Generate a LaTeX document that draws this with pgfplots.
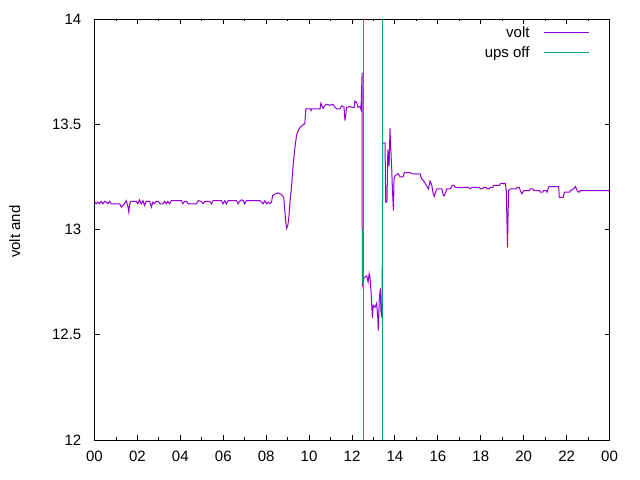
\documentclass[border=0pt]{standalone}
\usepackage{fontspec}
\setmainfont{Liberation Sans}
\usepackage{pgfplots}
\pgfplotsset{compat=1.18}
\definecolor{gpviolet}{HTML}{9400D3}
\definecolor{gpgreen}{HTML}{009E73}
\begin{document}
\fontsize{15bp}{18bp}\selectfont
\begin{tikzpicture}[x=1bp,y=1bp]
\useasboundingbox (0,0) rectangle (640,480);
\begin{axis}[
  at={(94.5bp,40bp)}, anchor=south west,
  scale only axis, width=515bp, height=421bp,
  xmin=0, xmax=24, ymin=12, ymax=14,
  xtick={0,2,...,24},
  xticklabels={00,02,04,06,08,10,12,14,16,18,20,22,00},
  minor x tick num=1,
  ytick={12,12.5,13,13.5,14},
  yticklabels={12,12.5,13,13.5,14},
  tick align=inside, major tick length=5bp, minor tick length=2.5bp,
  axis line style={line width=0.9bp},
  every tick/.style={line width=0.9bp, black},
  /pgf/number format/assume math mode=true,
  ticklabel style={font=\fontsize{15bp}{18bp}\selectfont},
  xticklabel style={yshift=-6bp},
  yticklabel style={xshift=-8bp},
  ylabel={volt and},
  ylabel style={at={(axis description cs:-0.155,0.495)}, anchor=center, font=\fontsize{15bp}{18bp}\selectfont},
  legend style={draw=none, fill=none, at={(1,1)}, anchor=north east,
    xshift=-19.5bp, yshift=-7.7bp, inner sep=0pt, outer sep=0pt,
    nodes={inner sep=0pt}, row sep=6bp, column sep=0pt},
  clip=true,
]
\addlegendimage{legend image code/.code={\draw[gpviolet, line width=1bp] (0bp,0bp) -- (45bp,0bp); \node[anchor=base east, black, inner sep=0pt, text height=11bp, text depth=3bp, font=\fontsize{15bp}{18bp}\selectfont] at (-14bp,-5.4bp) {volt};}}
\addlegendentry{}
\addlegendimage{legend image code/.code={\draw[gpgreen, line width=1bp] (0bp,0bp) -- (45bp,0bp); \node[anchor=base east, black, inner sep=0pt, text height=11bp, text depth=3bp, font=\fontsize{15bp}{18bp}\selectfont] at (-14bp,-5.4bp) {ups off};}}
\addlegendentry{}
\addplot[gpviolet, line width=1bp, forget plot] coordinates {
(0.00,13.133) (0.08,13.122) (0.16,13.130) (0.23,13.122) (0.31,13.134) (0.39,13.122)
(0.47,13.134) (0.55,13.130) (0.62,13.122) (0.70,13.134) (0.78,13.122) (1.17,13.122)
(1.25,13.106) (1.32,13.114) (1.40,13.122) (1.48,13.137) (1.56,13.106) (1.60,13.082)
(1.64,13.122) (1.70,13.134) (1.95,13.134) (2.02,13.122) (2.10,13.141) (2.18,13.122)
(2.26,13.137) (2.33,13.114) (2.41,13.134) (2.57,13.134) (2.65,13.106) (2.72,13.130)
(2.80,13.122) (2.88,13.134) (2.98,13.134) (3.04,13.122) (3.19,13.122) (3.27,13.134) (3.35,13.122)
(3.42,13.134) (3.50,13.122) (3.58,13.137) (4.05,13.137) (4.12,13.122) (4.20,13.134) (4.30,13.134)
(4.36,13.122) (4.75,13.122) (4.83,13.137) (4.98,13.134) (5.06,13.122) (5.14,13.134)
(5.37,13.134) (5.45,13.122) (5.53,13.137) (5.91,13.137) (5.99,13.122) (6.07,13.137)
(6.15,13.122) (6.23,13.137) (6.62,13.137) (6.69,13.122) (6.77,13.134) (6.85,13.141)
(6.93,13.137) (7.00,13.122) (7.08,13.137) (7.70,13.137) (7.78,13.130) (7.86,13.122)
(7.94,13.137) (8.02,13.122) (8.09,13.130) (8.17,13.122) (8.25,13.130) (8.30,13.161)
(8.41,13.168) (8.56,13.174) (8.67,13.168) (8.76,13.161) (8.82,13.150) (8.87,13.09)
(8.92,13.03) (8.95,13.005) (9.01,13.02) (9.06,13.06) (9.10,13.12) (9.18,13.20)
(9.26,13.31) (9.34,13.39) (9.42,13.45) (9.50,13.47) (9.57,13.485) (9.65,13.49)
(9.73,13.50) (9.80,13.50) (9.85,13.573) (10.05,13.573) (10.09,13.565) (10.12,13.573)
(10.51,13.573) (10.55,13.60) (10.59,13.59) (10.65,13.575) (10.74,13.59) (10.82,13.595)
(10.97,13.59) (11.11,13.595) (11.21,13.58) (11.29,13.573) (11.44,13.573) (11.52,13.588)
(11.63,13.58) (11.67,13.517) (11.72,13.555) (11.75,13.58) (11.91,13.585) (12.00,13.58) (12.10,13.58)
(12.14,13.61) (12.23,13.60) (12.28,13.58) (12.37,13.585) (12.42,13.57) (12.45,13.67)
(12.47,13.745) (12.475,13.24) (12.48,12.735) (12.56,12.77) (12.69,12.78) (12.75,12.75)
(12.80,12.79) (12.84,12.77) (12.89,12.70) (12.95,12.58) (12.99,12.64) (13.07,12.63)
(13.15,12.65) (13.20,12.58) (13.23,12.52) (13.27,12.67) (13.32,12.72) (13.35,12.61)
(13.40,12.58) (13.415,12.96) (13.43,13.41) (13.54,13.41) (13.57,13.13) (13.63,13.13)
(13.67,13.38) (13.73,13.30) (13.77,13.48) (13.80,13.40) (13.85,13.29) (13.88,13.20)
(13.93,13.09) (13.96,13.24) (14.01,13.256) (14.16,13.265) (14.24,13.25) (14.38,13.25)
(14.44,13.27) (14.71,13.27) (14.80,13.264) (15.17,13.264) (15.25,13.24) (15.33,13.232)
(15.41,13.22) (15.52,13.20) (15.56,13.193) (15.64,13.23) (15.72,13.21) (15.77,13.177)
(15.83,13.157) (15.95,13.193) (16.19,13.193) (16.26,13.16) (16.30,13.16) (16.42,13.193) (16.58,13.193)
(16.66,13.209) (16.76,13.209) (16.81,13.20) (17.43,13.20) (17.51,13.193) (17.59,13.20)
(17.94,13.20) (17.98,13.193) (18.09,13.193) (18.13,13.20) (18.25,13.20) (18.29,13.193)
(18.40,13.193) (18.44,13.20) (18.56,13.20) (18.60,13.209) (18.87,13.209) (18.91,13.217)
(18.99,13.22) (19.06,13.217) (19.14,13.22) (19.19,13.185) (19.22,13.04) (19.25,12.915)
(19.265,13.04) (19.30,13.185) (19.38,13.193) (19.65,13.193) (19.69,13.20) (19.80,13.20) (19.84,13.185) (19.92,13.17)
(20.00,13.185) (20.27,13.185) (20.31,13.193) (20.43,13.193) (20.47,13.185) (20.74,13.185) (20.78,13.177)
(20.89,13.177) (20.93,13.185) (21.05,13.185) (21.09,13.177)
(21.17,13.204) (21.63,13.204) (21.66,13.153) (21.84,13.153) (21.90,13.177) (22.14,13.177) (22.18,13.185) (22.33,13.193) (22.41,13.204)
(22.49,13.185) (22.57,13.177) (22.65,13.185) (23.97,13.185) (24.00,13.177)
};
\addplot[gpgreen, line width=1bp, unbounded coords=jump, forget plot] coordinates {
(12.53,12) (12.53,14) (12.7,nan) (13.42,12) (13.42,14)
};
\addplot[gpgreen, line width=1.2bp, unbounded coords=jump, forget plot] coordinates {
(12.49,13.0) (12.49,12.74) (13.0,nan) (13.43,13.0) (13.43,13.41)
};
\end{axis}
\end{tikzpicture}
\end{document}
